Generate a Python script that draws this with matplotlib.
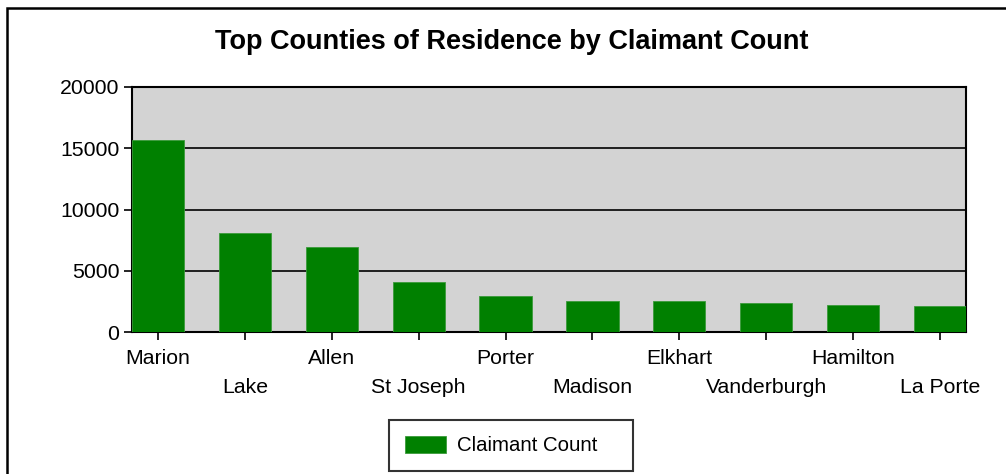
import matplotlib.pyplot as plt
from matplotlib.patches import Rectangle

plt.rcParams['font.family'] = ['Liberation Sans', 'DejaVu Sans']

# county claimant counts
counties = ['Marion', 'Lake', 'Allen', 'St Joseph', 'Porter', 'Madison',
            'Elkhart', 'Vanderburgh', 'Hamilton', 'La Porte']
claimants = [15650, 8110, 6910, 4110, 2940, 2500, 2500, 2390, 2230, 2120]
yticks = [0, 5000, 10000, 15000, 20000]

fig = plt.figure(figsize=(10.06, 4.74), dpi=100)
W, H = 1006, 474
# axes box in pixels: left 132, right 966, top 87, bottom 332
ax = fig.add_axes([132 / W, 1 - 332 / H, (966 - 132) / W, (332 - 87) / H])

x = list(range(len(counties)))
ax.set_facecolor('#d3d3d3')
ax.set_axisbelow(True)
ax.yaxis.grid(True, color='black', linewidth=1.2)
ax.bar(x, claimants, width=0.6, color='#008000', edgecolor='#3a9a3a',
       linewidth=0.6, label='Claimant Count', zorder=3)

ax.set_xlim(-0.3, len(counties) - 0.7)
ax.set_ylim(0, 20000)
ax.set_yticks(yticks)
ax.set_yticklabels([str(v) for v in yticks], fontsize=15.3)

# alternate labels onto two rows: even ones as major ticks, odd as minor
ax.set_xticks(x[0::2], counties[0::2], fontsize=15.3)
ax.set_xticks(x[1::2], counties[1::2], minor=True, fontsize=15.3)
ax.tick_params(axis='both', which='both', direction='out', length=6, width=1.2,
               color='black')
ax.tick_params(axis='y', pad=3)
ax.tick_params(axis='x', which='major', pad=6)
ax.tick_params(axis='x', which='minor', pad=27)
for s in ax.spines.values():
    s.set_linewidth(1.5)
    s.set_color('black')

fig.text(512 / W, 1 - 42 / H, 'Top Counties of Residence by Claimant Count',
         ha='center', va='center', fontsize=19.5, fontweight='bold')

leg = fig.legend(loc='center', bbox_to_anchor=(389 / W, 1 - 468 / H, 244 / W, 45 / H),
                 mode='expand', fontsize=14.7, frameon=True, fancybox=False,
                 edgecolor='black', handlelength=2.0, handleheight=0.9,
                 borderpad=0.78, handletextpad=0.55, borderaxespad=0)
leg.get_frame().set_linewidth(1.5)

# outer border (runs off the right and bottom edges)
fig.patches.append(Rectangle((6.5 / W, -0.1), 1.1, 1 - 8.5 / H + 0.1,
                             transform=fig.transFigure, fill=False,
                             edgecolor='black', linewidth=1.8))

fig.savefig('out.png', dpi=100)
